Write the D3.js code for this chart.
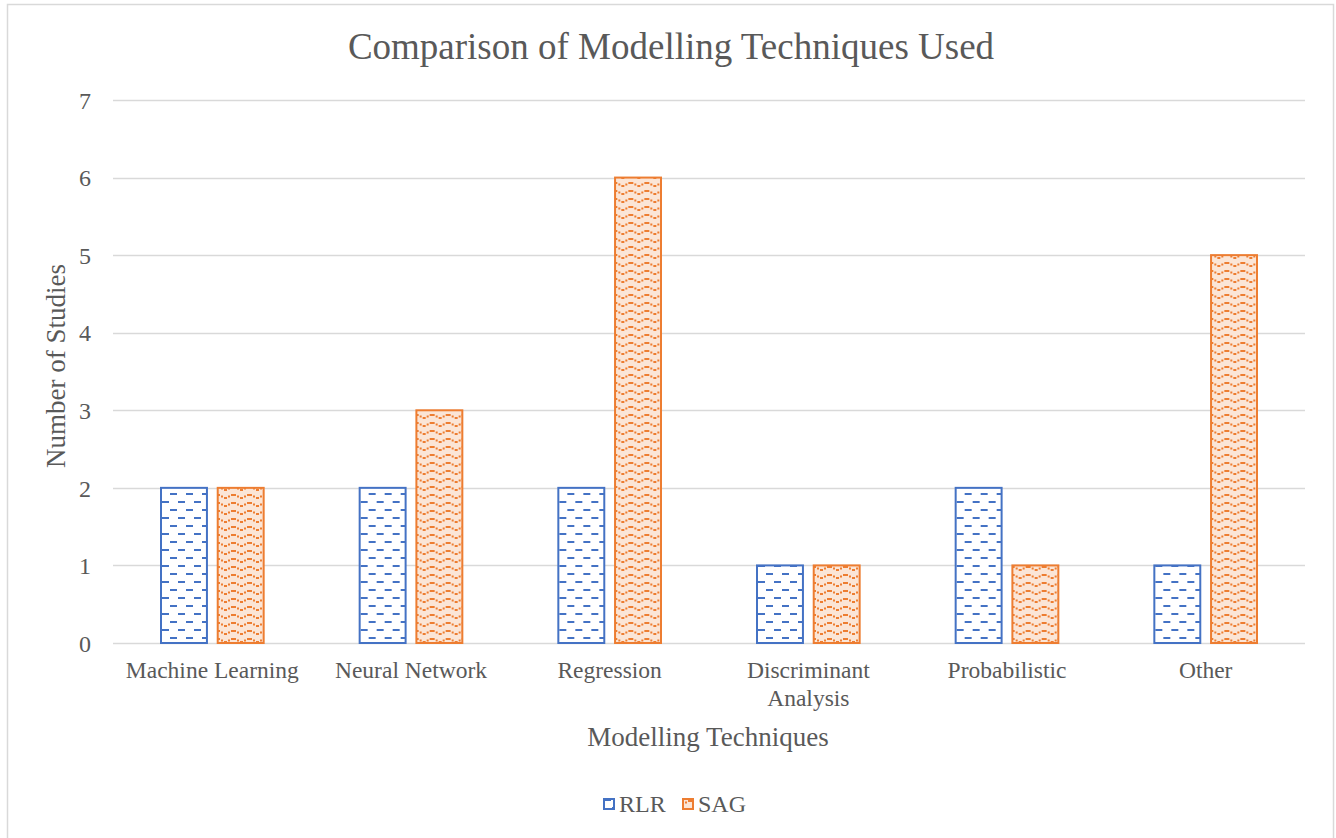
<!DOCTYPE html>
<html>
<head>
<meta charset="utf-8">
<script src="https://cdn.jsdelivr.net/npm/d3@7"></script>
<style>
  body { margin: 0; background: #fff; }
  text { font-family: "Liberation Serif", "Times New Roman", serif; fill: #595959; }
</style>
</head>
<body>
<div id="chart"></div>
<script>
// chart values
var categories = ["Machine Learning", "Neural Network", "Regression", "Discriminant Analysis", "Probabilistic", "Other"];
var seriesNames = ["RLR", "SAG"];
var rlrValues = [2, 2, 2, 1, 2, 1];
var sagValues = [2, 3, 6, 1, 1, 5];
var yTicks = [0, 1, 2, 3, 4, 5, 6, 7];

var svgWidth = 1336;
var svgHeight = 838;

var margin = { top: 100, right: 31, bottom: 195, left: 113 };
var width = svgWidth - margin.left - margin.right;
var height = svgHeight - margin.top - margin.bottom;

var svg = d3.select("#chart")
  .append("svg")
  .attr("width", svgWidth)
  .attr("height", svgHeight);

// fill patterns (dashed horizontal / wave)
var defs = svg.append("defs");

var pRlr = defs.append("pattern")
  .attr("id", "pat-rlr")
  .attr("patternUnits", "userSpaceOnUse")
  .attr("width", 16).attr("height", 16);
pRlr.append("rect").attr("width", 16).attr("height", 16).attr("fill", "#fff");
pRlr.append("rect").attr("x", 1).attr("y", 1).attr("width", 7).attr("height", 2).attr("fill", "#4472C4");
pRlr.append("rect").attr("x", 9).attr("y", 9).attr("width", 7).attr("height", 2).attr("fill", "#4472C4");

var pSag = defs.append("pattern")
  .attr("id", "pat-sag")
  .attr("patternUnits", "userSpaceOnUse")
  .attr("width", 16).attr("height", 8);
pSag.append("rect").attr("width", 16).attr("height", 8).attr("fill", "#FBE5D6");
[[0, 5, 2, 2], [3, 3.5, 2, 2], [6, 2, 5, 2], [12, 3.5, 2, 2], [15, 5, 1, 2]].forEach(function(r) {
  pSag.append("rect").attr("x", r[0]).attr("y", r[1]).attr("width", r[2]).attr("height", r[3]).attr("fill", "#ED7D31");
});

// outer border
svg.append("rect")
  .attr("x", 7.5).attr("y", 4.5)
  .attr("width", 1326).attr("height", 840)
  .attr("fill", "none")
  .attr("stroke", "#d9d9d9")
  .attr("stroke-width", 1.5);

var chartGroup = svg.append("g")
  .attr("transform", `translate(${margin.left}, ${margin.top})`);

// scales
var xScale = d3.scaleBand()
  .domain(categories)
  .range([0, width]);

var xInner = d3.scaleBand()
  .domain(seriesNames)
  .range([48, xScale.bandwidth() - 48])
  .paddingInner(0.19);

var yScale = d3.scaleLinear()
  .domain([0, 7])
  .range([height, 0]);

// gridlines
chartGroup.selectAll(".grid")
  .data(yTicks)
  .enter()
  .append("line")
  .attr("x1", 0)
  .attr("x2", width)
  .attr("y1", d => Math.round(yScale(d)) + 0.5)
  .attr("y2", d => Math.round(yScale(d)) + 0.5)
  .attr("stroke", "#d9d9d9")
  .attr("stroke-width", 1.5);

// y axis labels
var leftAxis = d3.axisLeft(yScale).tickValues(yTicks).tickFormat(d3.format("d")).tickSize(0).tickPadding(22);
var yAxisG = chartGroup.append("g").call(leftAxis);
yAxisG.select(".domain").remove();
yAxisG.selectAll("text")
  .attr("font-size", "24px")
  .attr("dy", "0.34em");

// bars
var rows = categories.map(function(c, i) {
  return { cat: c, values: [{ s: "RLR", v: rlrValues[i] }, { s: "SAG", v: sagValues[i] }] };
});

var groups = chartGroup.selectAll(".cat")
  .data(rows)
  .enter()
  .append("g")
  .attr("transform", d => `translate(${xScale(d.cat)}, 0)`);

groups.selectAll("rect")
  .data(d => d.values)
  .enter()
  .append("rect")
  .attr("x", d => xInner(d.s))
  .attr("y", d => yScale(d.v))
  .attr("width", xInner.bandwidth())
  .attr("height", d => height - yScale(d.v))
  .attr("fill", d => d.s === "RLR" ? "url(#pat-rlr)" : "url(#pat-sag)")
  .attr("stroke", d => d.s === "RLR" ? "#4472C4" : "#ED7D31")
  .attr("stroke-width", 2);

// category labels
var catLines = {
  "Discriminant Analysis": ["Discriminant", "Analysis"]
};
var catText = chartGroup.selectAll(".catLabel")
  .data(categories)
  .enter()
  .append("text")
  .attr("class", "catLabel")
  .attr("x", d => xScale(d) + xScale.bandwidth() / 2)
  .attr("y", height + 35)
  .attr("text-anchor", "middle")
  .attr("font-size", "23.5px");
catText.each(function(d) {
  var lines = catLines[d] || [d];
  var t = d3.select(this);
  lines.forEach(function(line, i) {
    t.append("tspan")
      .attr("x", xScale(d) + xScale.bandwidth() / 2)
      .attr("dy", i === 0 ? 0 : 28)
      .text(line);
  });
});

// title
svg.append("text")
  .attr("x", 671)
  .attr("y", 59)
  .attr("text-anchor", "middle")
  .attr("font-size", "37px")
  .text("Comparison of Modelling Techniques Used");

// axis titles
svg.append("text")
  .attr("transform", "translate(65, 366) rotate(-90)")
  .attr("text-anchor", "middle")
  .attr("font-size", "27px")
  .text("Number of Studies");

svg.append("text")
  .attr("x", 708)
  .attr("y", 746)
  .attr("text-anchor", "middle")
  .attr("font-size", "27px")
  .text("Modelling Techniques");

// legend
var legend = svg.append("g").attr("transform", "translate(603, 798)");
var legendItems = legend.selectAll(".leg")
  .data(seriesNames)
  .enter()
  .append("g")
  .attr("transform", (d, i) => `translate(${i * 79}, 0)`);
legendItems.append("rect")
  .attr("x", 1).attr("y", 1)
  .attr("width", 10).attr("height", 10)
  .attr("fill", d => d === "RLR" ? "url(#pat-rlr)" : "url(#pat-sag)")
  .attr("stroke", d => d === "RLR" ? "#4472C4" : "#ED7D31")
  .attr("stroke-width", 2);
legendItems.append("text")
  .attr("x", 16)
  .attr("y", 14)
  .attr("font-size", "24px")
  .text(d => d);
</script>
</body>
</html>
